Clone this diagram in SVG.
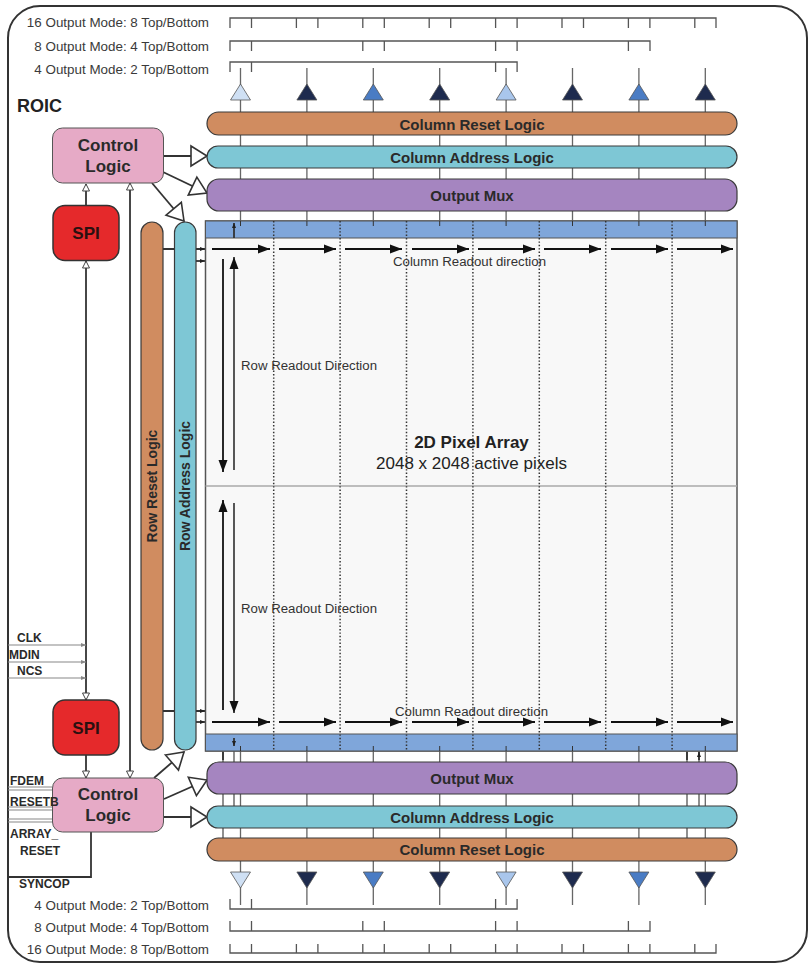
<svg xmlns="http://www.w3.org/2000/svg" width="810" height="965" viewBox="0 0 810 965">
<defs>
<style>
text{font-family:"Liberation Sans",Arial,sans-serif;}
.mode{font-size:13.4px;fill:#3a3a3a;text-anchor:end;}
.bar{stroke:#3a3a3a;stroke-width:1.2;}
.barTxt{font-size:15px;font-weight:bold;fill:#2a2a2a;text-anchor:middle;dominant-baseline:central;}
.rowTxt{font-size:14px;font-weight:bold;fill:#2a2a2a;text-anchor:middle;dominant-baseline:central;}
.blk{font-size:17px;font-weight:bold;fill:#2a2a2a;text-anchor:middle;}
.sig{font-size:12px;font-weight:bold;fill:#2a2a2a;}
.col{stroke:#666;stroke-width:1.3;fill:none;}
.tick{stroke:#555;stroke-width:1.3;fill:none;}
.dot{stroke:#333;stroke-width:1.5;stroke-dasharray:1.4 2;fill:none;}
.ctl{stroke:#333;stroke-width:1.8;fill:none;}
.sigl{stroke:#888;stroke-width:1.2;fill:none;}
.ra{stroke:#111;stroke-width:1.8;fill:none;}
.small{font-size:12px;fill:#333;}
</style>
<marker id="openBig" markerUnits="userSpaceOnUse" markerWidth="18" markerHeight="22" viewBox="-1 -1 18 22" refX="16" refY="10" orient="auto" overflow="visible"><path d="M0,0 L16,10 L0,20 Z" fill="#fff" stroke="#333" stroke-width="1.6"/></marker>
<marker id="openSm" markerUnits="userSpaceOnUse" markerWidth="9" markerHeight="9" viewBox="-1 -1 9 9" refX="7" refY="3.5" orient="auto-start-reverse" overflow="visible"><path d="M0,0 L7,3.5 L0,7 Z" fill="#fff" stroke="#444" stroke-width="1"/></marker>
<marker id="solid" markerUnits="userSpaceOnUse" markerWidth="13" markerHeight="10" viewBox="0 0 13 10" refX="12" refY="4.5" orient="auto" overflow="visible"><path d="M0,0 L12,4.5 L0,9 Z" fill="#111"/></marker>
<marker id="tiny" markerUnits="userSpaceOnUse" markerWidth="6" markerHeight="5" viewBox="0 0 6 5" refX="5" refY="2" orient="auto" overflow="visible"><path d="M0,0 L5,2 L0,4 Z" fill="#222"/></marker>
<marker id="tinyG" markerUnits="userSpaceOnUse" markerWidth="6" markerHeight="5" viewBox="0 0 6 5" refX="5" refY="2" orient="auto" overflow="visible"><path d="M0,0 L5,2 L0,4 Z" fill="#888"/></marker>
</defs>

<rect id="frame" x="8" y="6" width="799" height="956" rx="32" fill="#fff" stroke="#333" stroke-width="2"/>

<g id="mode-labels">
<text class="mode" x="209" y="27">16 Output Mode: 8 Top/Bottom</text>
<text class="mode" x="209" y="51">8 Output Mode: 4 Top/Bottom</text>
<text class="mode" x="209" y="74">4 Output Mode: 2 Top/Bottom</text>
<text class="mode" x="209" y="910">4 Output Mode: 2 Top/Bottom</text>
<text class="mode" x="209" y="932">8 Output Mode: 4 Top/Bottom</text>
<text class="mode" x="209" y="954">16 Output Mode: 8 Top/Bottom</text>
</g>

<g id="connectors">
<g class="col">
<path d="M240.5,68V226M306.9,68V226M373.3,68V226M439.7,68V226M506.1,68V226M572.5,68V226M638.9,68V226M705.3,68V226"/>
<path d="M240.5,747V905M306.9,747V905M373.3,747V905M439.7,747V905M506.1,747V905M572.5,747V905M638.9,747V905M705.3,747V905"/>
<path d="M223,751V838M687,751V838M234,751V806M699,751V806" stroke="#555"/>
</g>
<g class="tick">
<path d="M230,28V18H716V28M251.5,18V28M296.4,18V28M317.9,18V28M362.8,18V28M384.3,18V28M429.2,18V28M450.7,18V28M495.6,18V28M517.1,18V28M562,18V28M583.5,18V28M628.4,18V28M649.9,18V28M694.8,18V28"/>
<path d="M230,51V41H650V51M251.5,41V51M362.8,41V51M384.3,41V51M495.6,41V51M517.1,41V51M628.4,41V51"/>
<path d="M230,72V62H517.1V72M251.5,62V72M495.6,62V72"/>
<path d="M230,899V909H517.1V899M251.5,909V899M495.6,909V899"/>
<path d="M230,921V931H650V921M251.5,931V921M362.8,931V921M384.3,931V921M495.6,931V921M517.1,931V921M628.4,931V921"/>
<path d="M230,944V953H716V944M251.5,953V944M296.4,953V944M317.9,953V944M362.8,953V944M384.3,953V944M429.2,953V944M450.7,953V944M495.6,953V944M517.1,953V944M562,953V944M583.5,953V944M628.4,953V944M649.9,953V944M694.8,953V944"/>
</g>
<path class="ctl" d="M164,156H207" marker-end="url(#openBig)"/>
<path class="ctl" d="M163,172L207,193" marker-end="url(#openBig)"/>
<path class="ctl" d="M152,183L184,221" marker-end="url(#openBig)"/>
<path class="ctl" d="M164,817H207" marker-end="url(#openBig)"/>
<path class="ctl" d="M164,799L207,780" marker-end="url(#openBig)"/>
<path class="ctl" d="M154,778L184,752" marker-end="url(#openBig)"/>
<path class="ctl" d="M86,205V184" marker-end="url(#openSm)"/>
<path class="ctl" d="M86,700V261" marker-start="url(#openSm)" marker-end="url(#openSm)"/>
<path class="ctl" d="M130,778V183" marker-start="url(#openSm)" marker-end="url(#openSm)"/>
<path class="ctl" d="M86,755V778" marker-end="url(#openSm)"/>
<path class="ctl" stroke-width="1.2" d="M163,249H205" marker-end="url(#tiny)"/>
<path class="ctl" stroke-width="1.2" d="M196,261H205" marker-end="url(#tiny)"/>
<path class="ctl" stroke-width="1.2" d="M163,711H205" marker-end="url(#tiny)"/>
<path class="ctl" stroke-width="1.2" d="M196,722H205" marker-end="url(#tiny)"/>
<path class="sigl" d="M8,645H86" marker-end="url(#tinyG)"/>
<path class="sigl" d="M8,662H86" marker-end="url(#tinyG)"/>
<path class="sigl" d="M8,678H86" marker-end="url(#tinyG)"/>
<path class="sigl" d="M8,787H52M8,790H52" />
<path class="sigl" d="M8,807H52M8,810H52" />
<path class="sigl" d="M8,819H52M8,822H52" />
<path class="ctl" stroke-width="1.5" d="M91,832V877H8"/>
</g>

<g id="top-buffers" stroke="#555" stroke-width="0.8">
<path d="M230.5,100L240.5,84L250.5,100Z" fill="#cfe0f4"/>
<path d="M296.9,100L306.9,84L316.9,100Z" fill="#1e2b4e"/>
<path d="M363.3,100L373.3,84L383.3,100Z" fill="#4a7cc4"/>
<path d="M429.7,100L439.7,84L449.7,100Z" fill="#1e2b4e"/>
<path d="M496.1,100L506.1,84L516.1,100Z" fill="#a9c6ec"/>
<path d="M562.5,100L572.5,84L582.5,100Z" fill="#1e2b4e"/>
<path d="M628.9,100L638.9,84L648.9,100Z" fill="#4a7cc4"/>
<path d="M695.3,100L705.3,84L715.3,100Z" fill="#1e2b4e"/>
</g>
<g id="bottom-buffers" stroke="#555" stroke-width="0.8">
<path d="M230.5,872L240.5,888L250.5,872Z" fill="#cfe0f4"/>
<path d="M296.9,872L306.9,888L316.9,872Z" fill="#1e2b4e"/>
<path d="M363.3,872L373.3,888L383.3,872Z" fill="#4a7cc4"/>
<path d="M429.7,872L439.7,888L449.7,872Z" fill="#1e2b4e"/>
<path d="M496.1,872L506.1,888L516.1,872Z" fill="#a9c6ec"/>
<path d="M562.5,872L572.5,888L582.5,872Z" fill="#1e2b4e"/>
<path d="M628.9,872L638.9,888L648.9,872Z" fill="#4a7cc4"/>
<path d="M695.3,872L705.3,888L715.3,872Z" fill="#1e2b4e"/>
</g>

<g id="col-reset-top"><rect class="bar" x="207" y="112" width="530" height="23" rx="11.5" fill="#d08c60"/><text class="barTxt" x="472" y="124">Column Reset Logic</text></g>
<g id="col-addr-top"><rect class="bar" x="207" y="146" width="530" height="22" rx="11" fill="#7ec7d5"/><text class="barTxt" x="472" y="157">Column Address Logic</text></g>
<g id="mux-top"><rect class="bar" x="207" y="179" width="530" height="32" rx="12" fill="#a585c0"/><text class="barTxt" x="472" y="195.5">Output Mux</text></g>

<g id="mux-bottom"><rect class="bar" x="207" y="762" width="530" height="32" rx="12" fill="#a585c0"/><text class="barTxt" x="472" y="778">Output Mux</text></g>
<g id="col-addr-bottom"><rect class="bar" x="207" y="806" width="530" height="22" rx="11" fill="#7ec7d5"/><text class="barTxt" x="472" y="817">Column Address Logic</text></g>
<g id="col-reset-bottom"><rect class="bar" x="207" y="838" width="530" height="23" rx="11.5" fill="#d08c60"/><text class="barTxt" x="472" y="849.5">Column Reset Logic</text></g>

<g id="row-reset"><rect class="bar" x="141" y="222" width="22" height="528" rx="11" fill="#d08c60"/><text class="rowTxt" x="152" y="486" transform="rotate(-90 152 486)">Row Reset Logic</text></g>
<g id="row-addr"><rect class="bar" x="174.5" y="222" width="21.5" height="528" rx="10.75" fill="#7ec7d5"/><text class="rowTxt" x="185.3" y="486" transform="rotate(-90 185.3 486)">Row Address Logic</text></g>

<g id="control-top"><rect x="52.5" y="128" width="111" height="55" rx="10" fill="#e6aac6" stroke="#555" stroke-width="1"/><text class="blk" x="108" y="151">Control</text><text class="blk" x="108" y="172">Logic</text></g>
<g id="spi-top"><rect x="53" y="205.5" width="66" height="55" rx="12" fill="#e5292b" stroke="#333" stroke-width="1.5"/><text class="blk" x="86" y="238.5" style="fill:#2a1010">SPI</text></g>
<g id="spi-bottom"><rect x="53" y="700" width="66" height="55" rx="12" fill="#e5292b" stroke="#333" stroke-width="1.5"/><text class="blk" x="86" y="733.5" style="fill:#2a1010">SPI</text></g>
<g id="control-bottom"><rect x="52.5" y="778" width="111" height="54" rx="10" fill="#e6aac6" stroke="#555" stroke-width="1"/><text class="blk" x="108" y="800">Control</text><text class="blk" x="108" y="821">Logic</text></g>

<g id="pixel-array">
<rect x="205.5" y="221" width="531.5" height="530" fill="#f8f8f8" stroke="#555" stroke-width="1.5"/>
<rect x="205.5" y="221" width="531.5" height="17" fill="#7fa6da" stroke="#555" stroke-width="1"/>
<rect x="205.5" y="734" width="531.5" height="17" fill="#7fa6da" stroke="#555" stroke-width="1"/>
<path d="M205.5,486H737" stroke="#aaa" stroke-width="1.6"/>
<path class="dot" d="M273.7,221V751M340.1,221V751M406.5,221V751M472.9,221V751M539.3,221V751M605.7,221V751M672.1,221V751"/>
<path stroke="#333" stroke-width="1" d="M240.5,221V226M306.9,221V226M373.3,221V226M439.7,221V226M506.1,221V226M572.5,221V226M638.9,221V226M705.3,221V226M240.5,746V751M306.9,746V751M373.3,746V751M439.7,746V751M506.1,746V751M572.5,746V751M638.9,746V751M705.3,746V751"/>
<path class="ctl" stroke-width="1.1" d="M234,238V223" marker-end="url(#tiny)"/>
<path class="ctl" stroke-width="1.1" d="M223,760V752M687,760V752M699,760V752" marker-end="url(#tiny)"/>
<path class="ctl" stroke-width="1.1" d="M234,738V746" marker-end="url(#tiny)"/>
<g class="ra" marker-end="url(#solid)">
<path d="M212,249H270"/><path d="M279,249H336"/><path d="M345,249H402"/><path d="M412,249H469"/><path d="M478,249H535"/><path d="M544,249H601"/><path d="M611,249H668"/><path d="M677,249H733"/>
<path d="M212,722H270"/><path d="M279,722H336"/><path d="M345,722H402"/><path d="M412,722H469"/><path d="M478,722H535"/><path d="M544,722H601"/><path d="M611,722H668"/><path d="M677,722H733"/>
<path d="M223,259V472"/>
<path d="M234,470V257" stroke="#444"/>
<path d="M223,710V500"/>
<path d="M234,503V713" stroke="#444"/>
</g>
<text class="small" x="393" y="266" textLength="153" lengthAdjust="spacingAndGlyphs">Column Readout direction</text>
<text class="small" x="395" y="716" textLength="153" lengthAdjust="spacingAndGlyphs">Column Readout direction</text>
<text class="small" x="241" y="370" textLength="136" lengthAdjust="spacingAndGlyphs">Row Readout Direction</text>
<text class="small" x="241" y="613" textLength="136" lengthAdjust="spacingAndGlyphs">Row Readout Direction</text>
<text x="471.5" y="448" text-anchor="middle" style="font-size:17px;font-weight:bold;fill:#222">2D Pixel Array</text>
<text x="471.5" y="469" text-anchor="middle" style="font-size:17px;fill:#222">2048 x 2048 active pixels</text>
</g>

<g id="labels">
<text x="17" y="112" style="font-size:18px;font-weight:bold;fill:#222">ROIC</text>
<text class="sig" x="17" y="642">CLK</text>
<text class="sig" x="9" y="659">MDIN</text>
<text class="sig" x="17" y="675">NCS</text>
<text class="sig" x="10" y="785">FDEM</text>
<text class="sig" x="10" y="806">RESETB</text>
<text class="sig" x="10" y="838">ARRAY_</text>
<text class="sig" x="20" y="855">RESET</text>
<text class="sig" x="19" y="888">SYNCOP</text>
</g>
</svg>
